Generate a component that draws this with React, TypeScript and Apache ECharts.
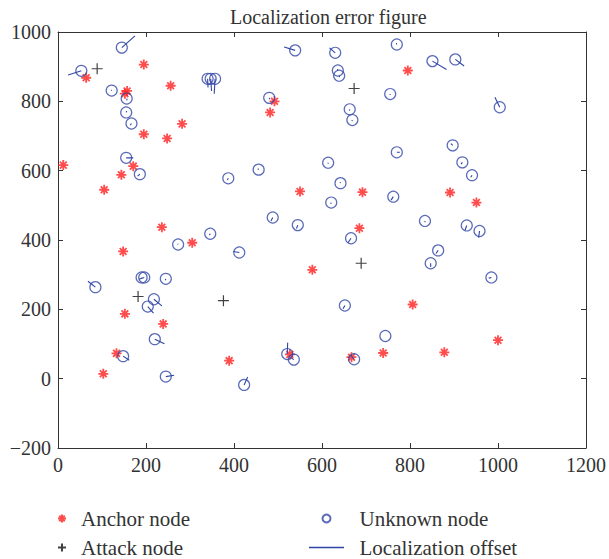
import React, { useEffect, useRef } from 'react';
import * as echarts from 'echarts';

const FONT = '"Liberation Serif", "DejaVu Serif", serif';
const TEXT = '#333333';
const RED = '#ff1f1f';
const BLUE = '#2f45a6';

const xTicks = [0, 200, 400, 600, 800, 1000, 1200];
const yTicks = [-200, 0, 200, 400, 600, 800, 1000];

const anchorNodes: [number, number][] = [
  [64, 868], [195, 906], [152, 822], [157, 830], [256, 845], [12, 616],
  [195, 705], [248, 693], [282, 735], [171, 613], [144, 588], [105, 545],
  [236, 437], [482, 768], [492, 800], [550, 540], [795, 889], [692, 538],
  [891, 537], [951, 508], [685, 434], [148, 367], [305, 392], [152, 187],
  [239, 158], [133, 73], [103, 14], [389, 52], [527, 70], [578, 314],
  [806, 214], [1000, 111], [878, 76], [739, 74], [667, 62],
];

const attackNodes: [number, number][] = [
  [89, 894], [673, 837], [182, 237], [376, 225], [689, 333],
];

const unknownNodes: [number, number][] = [
  [145, 955], [53, 888], [122, 831], [156, 808], [155, 768], [167, 736],
  [155, 637], [186, 590], [340, 865], [347, 865], [357, 865], [387, 578],
  [456, 603], [480, 810], [539, 947], [488, 465], [545, 443], [346, 418],
  [630, 940], [770, 964], [636, 889], [639, 874], [755, 821], [663, 777],
  [669, 746], [851, 916], [903, 921], [1004, 783], [770, 653], [897, 673],
  [919, 624], [941, 587], [614, 623], [642, 564], [621, 508], [762, 525],
  [834, 455], [929, 442], [958, 426], [666, 405], [864, 370], [847, 333],
  [985, 292], [652, 211], [744, 123], [673, 56], [273, 387], [412, 364],
  [85, 264], [190, 292], [196, 292], [245, 288], [218, 229], [204, 208],
  [220, 114], [148, 65], [245, 6], [423, -18], [521, 71], [536, 55],
];

// end point of each localization offset segment (same order as unknownNodes)
const offsetEnds: [number, number][] = [
  [175, 989], [23, 876], [121, 833], [157, 803], [156, 772], [164, 731],
  [171, 637], [181, 584], [341, 840], [349, 830], [355, 822], [385, 573],
  [454, 606], [481, 806], [514, 957], [484, 455], [542, 433], [344, 414],
  [617, 954], [769, 968], [635, 893], [640, 870], [755, 818], [662, 773],
  [668, 743], [883, 892], [923, 902], [993, 812], [777, 653], [893, 678],
  [916, 619], [938, 581], [614, 620], [641, 567], [620, 504], [757, 515],
  [834, 451], [925, 428], [956, 407], [659, 392], [859, 361], [847, 322],
  [979, 290], [648, 202], [744, 125], [665, 68], [272, 389], [398, 367],
  [68, 281], [191, 290], [184, 287], [244, 284], [236, 210], [217, 189],
  [242, 101], [162, 53], [264, 10], [431, 5], [522, 104], [530, 60],
];

const STAR = 'path://M5,0V10M0,5H10M1.6,1.6L8.4,8.4M1.6,8.4L8.4,1.6';
const PLUS = 'path://M5,0V10M0,5H10';
const DASH = 'path://M0,0H35V1.3H0Z';

export default function App() {
  const ref = useRef<HTMLDivElement>(null);

  useEffect(() => {
    if (!ref.current) return;
    const chart = echarts.init(ref.current, undefined, { renderer: 'svg' });

    const offsetData: any[] = [];
    unknownNodes.forEach((p, i) => {
      offsetData.push(p, offsetEnds[i], ['-', '-']);
    });

    const axisLine = { show: true, onZero: false, lineStyle: { color: TEXT, width: 1 } };
    const axisTick = { show: true, inside: true, length: 5, lineStyle: { color: TEXT } };
    const label = { fontSize: 20, fontFamily: FONT, color: TEXT };
    const fmt = (v: number) => (v < 0 ? '\u2212' + Math.abs(v) : String(v));
    const legendText = { fontSize: 21, fontFamily: FONT, color: TEXT, lineHeight: 20 };

    chart.setOption({
      animation: false,
      backgroundColor: '#ffffff',
      title: {
        text: 'Localization error figure',
        left: 225,
        top: 2,
        textStyle: { fontSize: 20, fontWeight: 'normal', fontFamily: FONT, color: TEXT },
      },
      grid: { left: 58, top: 32, width: 528, height: 416, containLabel: false },
      xAxis: [
        {
          type: 'value', min: xTicks[0], max: xTicks[xTicks.length - 1], interval: 200,
          position: 'bottom', axisLine, axisTick,
          axisLabel: { ...label, margin: 7, formatter: fmt },
          splitLine: { show: false },
        },
        {
          type: 'value', min: xTicks[0], max: xTicks[xTicks.length - 1], interval: 200,
          position: 'top', axisLine, axisTick, axisLabel: { show: false },
          splitLine: { show: false },
        },
      ],
      yAxis: [
        {
          type: 'value', min: yTicks[0], max: yTicks[yTicks.length - 1], interval: 200,
          position: 'left', axisLine, axisTick,
          axisLabel: { ...label, margin: 7, formatter: fmt },
          splitLine: { show: false },
        },
        {
          type: 'value', min: yTicks[0], max: yTicks[yTicks.length - 1], interval: 200,
          position: 'right', axisLine, axisTick, axisLabel: { show: false },
          splitLine: { show: false },
        },
      ],
      legend: [
        {
          data: ['Anchor node', 'Attack node'],
          orient: 'vertical',
          left: 57,
          top: 508,
          height: 60,
          padding: 0,
          itemWidth: 28,
          itemHeight: 8,
          itemGap: 8,
          textStyle: legendText,
        },
        {
          data: ['Unknown node', { name: 'Localization offset', icon: DASH }],
          orient: 'vertical',
          left: 309,
          top: 508,
          height: 60,
          padding: 0,
          itemWidth: 35,
          itemHeight: 8,
          itemGap: 8,
          formatter: (name: string) => '\u00a0\u00a0' + name,
          textStyle: legendText,
        },
      ],
      series: [
        {
          name: 'Anchor node',
          type: 'scatter',
          symbol: STAR,
          symbolSize: 10,
          itemStyle: { color: 'transparent', borderColor: RED, borderWidth: 1.8 },
          data: anchorNodes,
          z: 3,
        },
        {
          name: 'Attack node',
          type: 'scatter',
          symbol: PLUS,
          symbolSize: 11,
          itemStyle: { color: 'transparent', borderColor: '#111111', borderWidth: 1.2 },
          data: attackNodes,
          z: 3,
        },
        {
          name: 'Unknown node',
          type: 'scatter',
          symbol: 'circle',
          symbolSize: 11,
          itemStyle: { color: 'transparent', borderColor: BLUE, borderWidth: 1.2 },
          data: unknownNodes,
          z: 4,
        },
        {
          name: 'Localization offset',
          type: 'line',
          symbol: 'none',
          showSymbol: false,
          connectNulls: false,
          color: BLUE,
          itemStyle: { color: BLUE },
          lineStyle: { color: BLUE, width: 1.1 },
          data: offsetData,
          z: 5,
        },
      ],
    });

    return () => chart.dispose();
  }, []);

  return (
    <div
      ref={ref}
      style={{ position: 'fixed', left: 0, top: 0, width: 609, height: 559, background: '#fff' }}
    />
  );
}
